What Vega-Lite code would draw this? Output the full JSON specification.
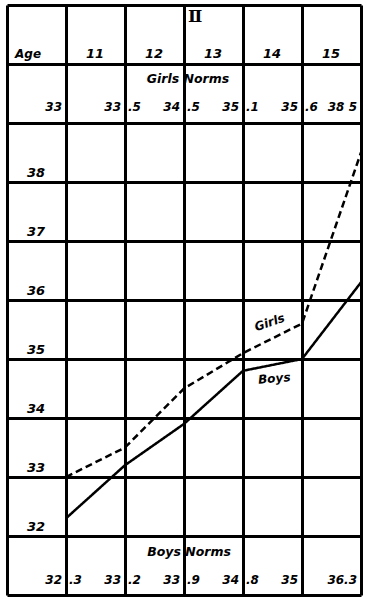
{
  "$schema": "https://vega.github.io/schema/vega-lite/v6.json",
  "width": 354,
  "height": 590,
  "autosize": {"type": "none"},
  "padding": {"left": 7, "top": 5, "right": 8, "bottom": 5},
  "background": "white",
  "config": {
    "view": {"stroke": null},
    "text": {"font": "DejaVu Sans", "fontWeight": "bold", "fontStyle": "italic", "fontSize": 12, "color": "black"}
  },
  "datasets": {
    "norms": [
      {"sex": "Girls", "age": 11, "value": 33.0, "whole": "33", "frac": ""},
      {"sex": "Girls", "age": 12, "value": 33.5, "whole": "33", "frac": ".5"},
      {"sex": "Girls", "age": 13, "value": 34.5, "whole": "34", "frac": ".5"},
      {"sex": "Girls", "age": 14, "value": 35.1, "whole": "35", "frac": ".1"},
      {"sex": "Girls", "age": 15, "value": 35.6, "whole": "35", "frac": ".6"},
      {"sex": "Girls", "age": 16, "value": 38.5, "whole": "38 5", "frac": ""},
      {"sex": "Boys", "age": 11, "value": 32.3, "whole": "32", "frac": ".3"},
      {"sex": "Boys", "age": 12, "value": 33.2, "whole": "33", "frac": ".2"},
      {"sex": "Boys", "age": 13, "value": 33.9, "whole": "33", "frac": ".9"},
      {"sex": "Boys", "age": 14, "value": 34.8, "whole": "34", "frac": ".8"},
      {"sex": "Boys", "age": 15, "value": 35.0, "whole": "35", "frac": ""},
      {"sex": "Boys", "age": 16, "value": 36.3, "whole": "36.3", "frac": ""}
    ],
    "ages": [
      {"age": 11, "label": "11"},
      {"age": 12, "label": "12"},
      {"age": 13, "label": "13"},
      {"age": 14, "label": "14"},
      {"age": 15, "label": "15"}
    ],
    "rows": [
      {"value": 32}, {"value": 33}, {"value": 34}, {"value": 35},
      {"value": 36}, {"value": 37}, {"value": 38}
    ],
    "one": [{"n": 1}]
  },
  "layer": [
    {
      "data": {"name": "norms"},
      "mark": {"type": "line", "color": "black", "strokeWidth": 2.5},
      "encoding": {
        "x": {
          "field": "age", "type": "quantitative",
          "scale": {"domain": [10, 16], "nice": false, "zero": false},
          "axis": {"values": [10, 11, 12, 13, 14, 15, 16], "grid": true, "gridColor": "black", "gridWidth": 3, "gridOpacity": 1, "labels": false, "ticks": false, "domain": false, "title": null}
        },
        "y": {
          "field": "value", "type": "quantitative",
          "scale": {"domain": [31, 41], "nice": false, "zero": false},
          "axis": {"values": [31, 32, 33, 34, 35, 36, 37, 38, 39, 40, 41], "grid": true, "gridColor": "black", "gridWidth": 3, "gridOpacity": 1, "labels": false, "ticks": false, "domain": false, "title": null}
        },
        "strokeDash": {
          "field": "sex", "type": "nominal",
          "scale": {"domain": ["Boys", "Girls"], "range": [[1, 0], [7, 4]]},
          "legend": null
        }
      }
    },
    {
      "data": {"name": "ages"},
      "mark": {"type": "text", "align": "center", "baseline": "alphabetic", "dx": 29, "dy": -6, "fontSize": 13},
      "encoding": {
        "x": {"field": "age", "type": "quantitative"},
        "y": {"datum": 40},
        "text": {"field": "label"}
      }
    },
    {
      "data": {"name": "one"},
      "mark": {"type": "text", "text": "Age", "align": "left", "baseline": "alphabetic", "dx": 8, "dy": -6, "fontSize": 12},
      "encoding": {"x": {"datum": 10}, "y": {"datum": 40}}
    },
    {
      "data": {"name": "one"},
      "mark": {"type": "text", "text": "Ⅱ", "align": "left", "baseline": "alphabetic", "dx": 4, "dy": 17, "fontSize": 17, "font": "DejaVu Serif", "fontStyle": "normal", "fontWeight": "bold"},
      "encoding": {"x": {"datum": 13}, "y": {"datum": 41}}
    },
    {
      "data": {"name": "one"},
      "mark": {"type": "text", "text": "Girls Norms", "align": "center", "baseline": "alphabetic", "dx": 4, "dy": 19, "fontSize": 12.5},
      "encoding": {"x": {"datum": 13}, "y": {"datum": 40}}
    },
    {
      "data": {"name": "one"},
      "mark": {"type": "text", "text": "Boys Norms", "align": "center", "baseline": "alphabetic", "dx": 5, "dy": 20, "fontSize": 12.5},
      "encoding": {"x": {"datum": 13}, "y": {"datum": 32}}
    },
    {
      "data": {"name": "norms"},
      "transform": [{"filter": "datum.sex === 'Girls'"}],
      "mark": {"type": "text", "align": "right", "baseline": "alphabetic", "dx": -4, "dy": -12, "fontSize": 12},
      "encoding": {"x": {"field": "age", "type": "quantitative"}, "y": {"datum": 39}, "text": {"field": "whole"}}
    },
    {
      "data": {"name": "norms"},
      "transform": [{"filter": "datum.sex === 'Girls'"}],
      "mark": {"type": "text", "align": "left", "baseline": "alphabetic", "dx": 3, "dy": -12, "fontSize": 12},
      "encoding": {"x": {"field": "age", "type": "quantitative"}, "y": {"datum": 39}, "text": {"field": "frac"}}
    },
    {
      "data": {"name": "norms"},
      "transform": [{"filter": "datum.sex === 'Boys'"}],
      "mark": {"type": "text", "align": "right", "baseline": "alphabetic", "dx": -4, "dy": -11, "fontSize": 12},
      "encoding": {"x": {"field": "age", "type": "quantitative"}, "y": {"datum": 31}, "text": {"field": "whole"}}
    },
    {
      "data": {"name": "norms"},
      "transform": [{"filter": "datum.sex === 'Boys'"}],
      "mark": {"type": "text", "align": "left", "baseline": "alphabetic", "dx": 3, "dy": -11, "fontSize": 12},
      "encoding": {"x": {"field": "age", "type": "quantitative"}, "y": {"datum": 31}, "text": {"field": "frac"}}
    },
    {
      "data": {"name": "rows"},
      "mark": {"type": "text", "align": "center", "baseline": "alphabetic", "dx": 29, "dy": -5, "fontSize": 13},
      "encoding": {"x": {"datum": 10}, "y": {"field": "value", "type": "quantitative"}, "text": {"field": "value"}}
    },
    {
      "data": {"name": "one"},
      "mark": {"type": "text", "text": "Girls", "align": "center", "baseline": "middle", "angle": -19, "fontSize": 12},
      "encoding": {"x": {"datum": 14.45}, "y": {"datum": 35.62}}
    },
    {
      "data": {"name": "one"},
      "mark": {"type": "text", "text": "Boys", "align": "center", "baseline": "middle", "angle": -5, "fontSize": 12},
      "encoding": {"x": {"datum": 14.53}, "y": {"datum": 34.67}}
    }
  ]
}
